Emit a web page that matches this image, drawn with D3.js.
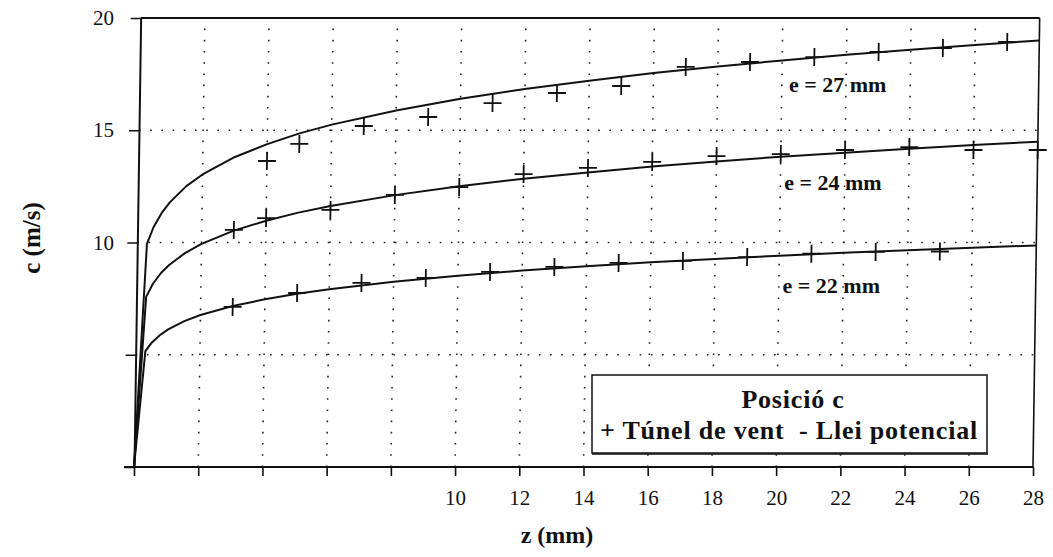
<!DOCTYPE html>
<html>
<head>
<meta charset="utf-8">
<script src="https://cdn.jsdelivr.net/npm/d3@7/dist/d3.min.js"></script>
<style>
  body { margin: 0; background: #fff; }
  svg { display: block; }
  text { font-family: "Liberation Serif", "DejaVu Serif", serif; fill: #111; }
</style>
</head>
<body>
<svg id="chart" width="1053" height="557"></svg>
<script>
// ---- axis ticks ----
const xTicks = [0, 2, 4, 6, 8, 10, 12, 14, 16, 18, 20, 22, 24, 26, 28];
const xTickLabels = [10, 12, 14, 16, 18, 20, 22, 24, 26, 28];
const yTicks = [0, 5, 10, 15, 20];
const yTickLabels = [10, 15, 20];
const xGrid = [2, 4, 6, 8, 10, 12, 14, 16, 18, 20, 22, 24, 26];
const yGrid = [5, 10, 15];

// ---- fitted power-law curves (Llei potencial) ----
const fitZ   = [0, 0.3, 0.5, 0.75, 1, 1.5, 2, 3, 4, 5, 6, 8, 10, 12, 14, 16, 18, 20, 22, 24, 26, 28];
const fit27  = [0, 9.94, 10.69, 11.33, 11.8, 12.51, 13.03, 13.81, 14.38, 14.86, 15.25, 15.88, 16.40, 16.84, 17.20, 17.55, 17.84, 18.11, 18.36, 18.59, 18.80, 19.00];
const fit24  = [0, 7.58, 8.15, 8.64, 9.0, 9.54, 9.94, 10.53, 10.97, 11.33, 11.63, 12.11, 12.51, 12.84, 13.12, 13.38, 13.61, 13.82, 14.00, 14.18, 14.34, 14.49];
const fit22  = [0, 5.16, 5.55, 5.88, 6.13, 6.50, 6.77, 7.17, 7.47, 7.72, 7.92, 8.25, 8.52, 8.75, 8.94, 9.12, 9.27, 9.41, 9.54, 9.65, 9.77, 9.87];

// ---- wind tunnel measurements (Túnel de vent) ----
const z27 = [4, 5, 7, 9, 11, 13, 15, 17, 19, 21, 23, 25, 27];
const c27 = [13.63, 14.39, 15.19, 15.59, 16.21, 16.66, 16.97, 17.82, 18.04, 18.26, 18.49, 18.66, 18.93];
const z24 = [3, 4, 6, 8, 10, 12, 14, 16, 18, 20, 22, 24, 26, 28];
const c24 = [10.56, 11.09, 11.45, 12.12, 12.47, 13.05, 13.32, 13.59, 13.85, 13.94, 14.12, 14.25, 14.12, 14.12];
const z22 = [3, 5, 7, 9, 11, 13, 15, 17, 19, 21, 23, 25];
const c22 = [7.13, 7.75, 8.20, 8.42, 8.69, 8.91, 9.09, 9.18, 9.35, 9.50, 9.58, 9.60];

const seriesNames = ["e = 27 mm", "e = 24 mm", "e = 22 mm"];
const legendTitle = "Posició c";
const legendText = "+ Túnel de vent  - Llei potencial";
const xTitle = "z (mm)";
const yTitle = "c (m/s)";

const svg = d3.select("#chart");
svg.append("rect").attr("width", 1053).attr("height", 557).attr("fill", "#fff");

const x = d3.scaleLinear().domain([0, 28]).range([134, 1033]);
const y = d3.scaleLinear().domain([0, 20]).range([467, 18]);

const ink = "#111";

// the printed frame leans slightly to the right towards the top
const plot = svg.append("g")
  .attr("transform", `translate(0,${y(0)}) skewX(-0.85) translate(0,${-y(0)})`);

// dotted grid
const grid = plot.append("g").attr("stroke", "#222").attr("stroke-width", 1.6)
  .attr("stroke-dasharray", "1.6,9.6").attr("fill", "none");
grid.selectAll("line.v").data(xGrid).join("line").attr("class", "v")
  .attr("x1", d => x(d)).attr("x2", d => x(d)).attr("y1", y(0)).attr("y2", y(20));
grid.selectAll("line.h").data(yGrid).join("line").attr("class", "h")
  .attr("x1", x(0)).attr("x2", x(28)).attr("y1", d => y(d)).attr("y2", d => y(d));

// frame (top and right)
plot.append("line").attr("x1", x(0)).attr("x2", x(28)).attr("y1", y(20)).attr("y2", y(20))
  .attr("stroke", ink).attr("stroke-width", 2);
plot.append("line").attr("x1", x(28)).attr("x2", x(28)).attr("y1", y(20)).attr("y2", y(0))
  .attr("stroke", ink).attr("stroke-width", 1.6);

// x axis
const xAxis = d3.axisBottom(x).tickValues(xTicks).tickSize(9).tickSizeOuter(0)
  .tickFormat(d => xTickLabels.includes(d) ? d : "");
const gx = svg.append("g").attr("transform", `translate(0,${y(0)})`).call(xAxis);
gx.select(".domain").attr("stroke", ink).attr("stroke-width", 2).attr("d", `M${x(0) - 10},0H${x(28)}`);
gx.selectAll(".tick line").attr("stroke", ink).attr("stroke-width", 1.6);
gx.selectAll(".tick text").attr("font-family", "Liberation Serif").attr("font-size", 21)
  .attr("fill", ink).attr("dy", "1.25em");

// y axis: line and ticks follow the frame, numbers stay upright
const gy = plot.append("g").attr("transform", `translate(${x(0)},0)`)
  .call(d3.axisLeft(y).tickValues(yTicks).tickSize(10).tickSizeOuter(0).tickFormat(""));
gy.select(".domain").attr("stroke", ink).attr("stroke-width", 2);
gy.selectAll(".tick line").attr("stroke", ink).attr("stroke-width", 1.6);
const gyl = svg.append("g").attr("transform", `translate(${x(0)},0)`)
  .call(d3.axisLeft(y).tickValues(yTickLabels).tickSize(0));
gyl.select(".domain").remove();
gyl.selectAll(".tick text").attr("font-family", "Liberation Serif").attr("font-size", 21)
  .attr("fill", ink).attr("x", -20);

// fitted curves
const line = d3.line().x(d => x(d[0])).y(d => y(d[1]));
[fit27, fit24, fit22].forEach(vals => {
  plot.append("path").datum(fitZ.map((z, i) => [z, vals[i]]))
    .attr("d", line).attr("fill", "none").attr("stroke", ink).attr("stroke-width", 2)
    .attr("stroke-linejoin", "round");
});

// measured points as plus signs
function crosses(zs, cs) {
  const g = plot.append("g").attr("stroke", ink).attr("stroke-width", 1.8);
  g.selectAll("path").data(zs.map((z, i) => [z, cs[i]])).join("path")
    .attr("d", d => `M${x(d[0]) - 9},${y(d[1])}H${x(d[0]) + 9}M${x(d[0])},${y(d[1]) - 9}V${y(d[1]) + 9}`);
}
crosses(z27, c27);
crosses(z24, c24);
crosses(z22, c22);

// curve labels
const labelPos = [[20.4, 16.7], [20.25, 12.35], [20.2, 7.75]];
seriesNames.forEach((s, i) => {
  svg.append("text").attr("x", x(labelPos[i][0])).attr("y", y(labelPos[i][1]))
    .attr("font-size", 22).attr("font-weight", "bold").text(s);
});

// legend box
const lg = svg.append("g");
lg.append("rect").attr("x", 592).attr("y", 375).attr("width", 395).attr("height", 78)
  .attr("fill", "#fff").attr("stroke", ink).attr("stroke-width", 1.5);
lg.append("line").attr("x1", 592).attr("x2", 988).attr("y1", 454).attr("y2", 454)
  .attr("stroke", ink).attr("stroke-width", 1.5);
lg.append("text").attr("x", 793).attr("y", 408).attr("text-anchor", "middle")
  .attr("font-size", 26).attr("font-weight", "bold").attr("letter-spacing", 0.8).text(legendTitle);
lg.append("text").attr("x", 789).attr("y", 439).attr("text-anchor", "middle")
  .attr("font-size", 26).attr("font-weight", "bold").attr("letter-spacing", 0.8)
  .attr("xml:space", "preserve").text(legendText);

// axis titles
svg.append("text").attr("x", 557).attr("y", 543).attr("text-anchor", "middle")
  .attr("font-size", 24).attr("font-weight", "bold").text(xTitle);
svg.append("text").attr("transform", `translate(40,${y(10.2)}) rotate(-90)`).attr("text-anchor", "middle")
  .attr("font-size", 25).attr("font-weight", "bold").text(yTitle);
</script>
</body>
</html>
